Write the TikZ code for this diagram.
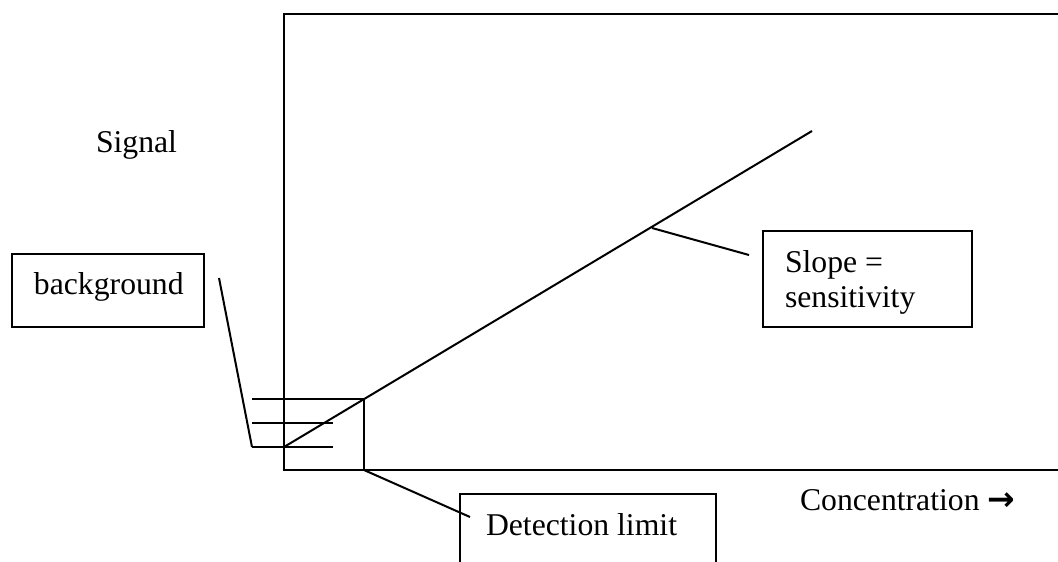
\documentclass[tikz,border=0pt]{standalone}
\usepackage{fontspec}
\setmainfont{Liberation Serif}
\newfontfamily\arrowfont{DejaVu Sans}
\begin{document}
\begin{tikzpicture}[x=1pt,y=-1pt,line width=2pt,
  lbl/.style={font=\fontsize{31.7}{35}\selectfont,inner sep=0pt,anchor=base west},
  boxed/.style={draw,line width=2pt,inner sep=0pt}]
\useasboundingbox (0,0) rectangle (1058,562);
\clip (0,0) rectangle (1058,562);
% main frame
\coordinate (tr) at (1070,14);
\coordinate (tl) at (284,14);
\coordinate (bl) at (284,470);
\coordinate (br) at (1070,470);
\draw (tr) -- (tl) -- (bl) -- (br);
% calibration line
\coordinate (o) at (284,447);
\coordinate (d) at (364,399);
\coordinate (e) at (812,131);
\draw (o) -- (e);
% detection limit box
\coordinate (dl) at (364,470);
\draw (d) -- (dl);
\coordinate (h1) at (252,399);
\coordinate (h2s) at (252,423);
\coordinate (h2e) at (333,423);
\coordinate (h3s) at (252,447);
\coordinate (h3e) at (333,447);
\draw (h1) -- (d);
\draw (h2s) -- (h2e);
\draw (h3s) -- (h3e);
% labels
\node[lbl] (signal) at (95,152) {Signal};
\node[boxed,minimum width=192pt,minimum height=73pt] (bg) at (108,290.5) {};
\node[lbl] (bgtxt) at (33,294) {background};
\coordinate (bgc) at (219,278);
\draw (bgc) -- (h3s);
\node[boxed,minimum width=209pt,minimum height=96pt] (sl) at (867.5,279) {};
\node[lbl] (sltxt1) at (784,272) {Slope =};
\node[lbl] (sltxt2) at (784,307) {sensitivity};
\coordinate (slp) at (652,228);
\coordinate (sle) at (749,255);
\draw (slp) -- (sle);
\node[boxed,minimum width=256pt,minimum height=100pt] (det) at (588,544) {};
\node[lbl] (dettxt) at (485,535) {Detection limit};
\coordinate (dle) at (470,517);
\draw (dl) -- (dle);
\node[lbl] (conc) at (799,510) {Concentration {\arrowfont\bfseries\fontsize{33}{35}\selectfont →}};
\end{tikzpicture}
\end{document}
